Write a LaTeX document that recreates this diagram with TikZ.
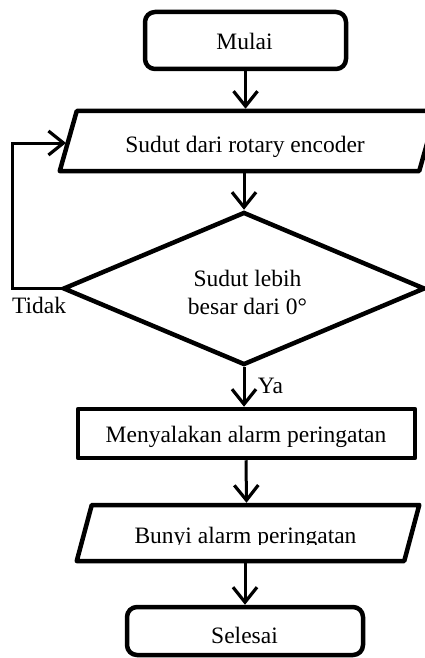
\documentclass[tikz,border=0pt]{standalone}
\usepackage{fontspec}
\setmainfont{Liberation Serif}
\usetikzlibrary{arrows.meta,shapes.geometric,calc}
\begin{document}
\begin{tikzpicture}[x=1pt,y=-1pt,
  shapeline/.style={draw=black,line width=4.5pt,line join=round},
  term/.style={shapeline,rounded corners=10pt,inner sep=0pt,outer sep=2.25pt},
  proc/.style={shapeline,inner sep=0pt,outer sep=2.25pt},
  io/.style={inner sep=0pt,outer sep=2.25pt},
  decision/.style={draw=black,line width=4.5pt,diamond,inner sep=0pt,outer sep=2.25pt},
  txt/.style={font=\fontsize{23.5}{28}\selectfont,anchor=base,inner sep=0pt},
  conn/.style={line width=3pt,-{Straight Barb[length=15pt,width=24pt,line width=3.2pt]}}
]
\fill[white] (0,0) rectangle (424,658);
\useasboundingbox (0,0) rectangle (424,658);

% shapes
\node[term, minimum width=201pt, minimum height=57pt] (start) at (245.5,40.5) {};
\node[io, minimum width=355pt, minimum height=60pt] (inp) at (246,141) {};
\draw[shapeline] ($(inp.north west)+(10.5,2.25)$) -- ($(inp.north east)+(10.5,2.25)$)
  -- ($(inp.south east)+(-6.5,-2.25)$) -- ($(inp.south west)+(-6.5,-2.25)$) -- cycle;
\node[decision, minimum width=362pt, minimum height=153pt] (dec) at (244,288.5) {};
\node[proc, minimum width=337pt, minimum height=49pt] (act) at (246.5,433.5) {};
\node[io, minimum width=323pt, minimum height=56pt] (out) at (246,533) {};
\draw[shapeline] ($(out.north west)+(9.5,2.25)$) -- ($(out.north east)+(9.5,2.25)$)
  -- ($(out.south east)+(-5.5,-2.25)$) -- ($(out.south west)+(-5.5,-2.25)$) -- cycle;
\node[term, minimum width=236pt, minimum height=48pt] (stop) at (245,631) {};

% texts
\node[txt] (t1) at (244.5,50) {Mulai};
\node[txt] (t2) at (245,152) {Sudut dari rotary encoder};
\node[txt] (t3a) at (247.5,286) {Sudut lebih};
\node[txt] (t3b) at (247.5,314) {besar dari 0°};
\node[txt] (tno) at (39,313) {Tidak};
\node[txt] (tya) at (270.5,393) {Ya};
\node[txt] (t4) at (246,442) {Menyalakan alarm peringatan};
\begin{scope}
  \clip (0,0) rectangle (424,544.5);
  \node[txt] (t5) at (245.5,543) {Bunyi alarm peringatan};
\end{scope}
\node[txt] (t6) at (244.5,643) {Selesai};

% connectors
\coordinate (fbtop) at (12,143);
\coordinate (fbend) at (66,143);
\draw[conn] (start.south) -- (start.south |- inp.north);
\draw[conn] (inp.south -| dec.north) -- (dec.north);
\draw[conn] (dec.south) -- (dec.south |- act.north);
\draw[conn] (act.south -| out.north) -- (out.north -| act.south);
\draw[conn] (out.south -| stop.north) -- (stop.north);
\draw[conn] (dec.west) -| (fbtop) -- (fbend);
\end{tikzpicture}
\end{document}
